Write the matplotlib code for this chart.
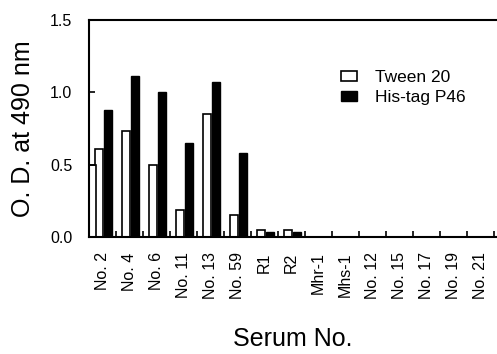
import numpy as np
import matplotlib.pyplot as plt

plt.rcParams['font.family'] = ['Liberation Sans', 'DejaVu Sans']

# Data
sera = ["No. 2", "No. 4", "No. 6", "No. 11", "No. 13", "No. 59", "R1", "R2",
        "Mhr-1", "Mhs-1", "No. 12", "No. 15", "No. 17", "No. 19", "No. 21"]
tween = [0.61, 0.73, 0.50, 0.19, 0.85, 0.15, 0.05, 0.05,
         0, 0, 0, 0, 0, 0, 0]
histag = [0.88, 1.11, 1.00, 0.65, 1.07, 0.58, 0.035, 0.035,
          0, 0, 0, 0, 0, 0, 0]
# partly clipped white bar at the far left edge of the plot
edge_bar = [0.5]

x = np.arange(len(sera))

fig = plt.figure(figsize=(4.97, 3.54), dpi=100)
ax = fig.add_axes([0.179, 0.3305, 0.821, 0.613])

ax.bar(x - 0.13, tween, width=0.27, color="white", edgecolor="black", linewidth=1.2,
       label="Tween 20")
ax.bar(x + 0.205, histag, width=0.32, color="black", edgecolor="black", linewidth=1.0,
       label="His-tag P46")
ax.bar([-0.37], edge_bar, width=0.26, color="white", edgecolor="black", linewidth=1.2)

ax.set_xlim(-0.5, 14.6)
ax.set_ylim(0, 1.5)
ax.set_yticks([0, 0.5, 1.0, 1.5])
ax.set_yticklabels(["0.0", "0.5", "1.0", "1.5"], fontsize=11.5)
ax.set_xticks(x)
ax.set_xticklabels(sera, rotation=90, fontsize=11.5)
ax.set_xticks(x + 0.5, minor=True)
ax.tick_params(axis="x", which="major", length=0, pad=11)
ax.tick_params(axis="x", which="minor", direction="in", length=4, width=1.2)
ax.tick_params(axis="y", direction="in", length=4, width=1.2, pad=12)

ax.spines["right"].set_visible(False)
for s in ["left", "bottom", "top"]:
    ax.spines[s].set_linewidth(1.5)

ax.set_ylabel("O. D. at 490 nm", fontsize=18, labelpad=11)
ax.set_xlabel("Serum No.", fontsize=18, labelpad=20)

ax.legend(loc="upper left", bbox_to_anchor=(0.6, 0.8), frameon=False, fontsize=12.5,
          handlelength=0.95, handleheight=0.5, handletextpad=1.0, labelspacing=0.27,
          borderaxespad=0)

fig.savefig("out.png", dpi=100)
